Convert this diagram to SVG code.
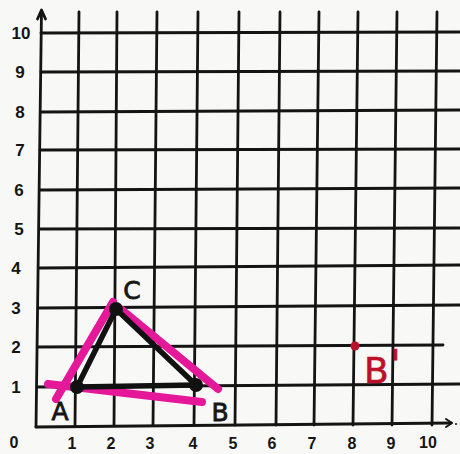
<svg xmlns="http://www.w3.org/2000/svg" width="460" height="454" viewBox="0 0 460 454">
<defs>
<style>
.g{stroke:#141414;stroke-width:2.8;stroke-linecap:round;fill:none}
.ax{stroke:#141414;stroke-width:2.8;fill:none;stroke-linecap:round;stroke-linejoin:round}
.lbl{font-family:"Liberation Sans",Arial,sans-serif;font-weight:bold;font-size:17px;fill:#151515;text-anchor:middle}
.xl{font-size:16px}
.pink{stroke:#e5189a;stroke-width:8;stroke-linecap:round;fill:none}
.blk{stroke:#111;stroke-width:5.5;stroke-linecap:round;fill:none}
.hand{font-family:"DejaVu Sans",sans-serif;font-size:25px;fill:#161616;stroke:#161616;stroke-width:0.8;text-anchor:middle}
.red{font-family:"DejaVu Sans",sans-serif;font-size:36px;fill:#bd1029;stroke:#bd1029;stroke-width:0.6}
</style>
</defs>
<rect width="460" height="454" fill="#f8f8f6"/>
<g id="grid">
<line class="g" x1="79" y1="12" x2="75" y2="425"/>
<line class="g" x1="117" y1="12" x2="114" y2="425"/>
<line class="g" x1="157" y1="12" x2="153" y2="425"/>
<line class="g" x1="198" y1="12" x2="194" y2="425"/>
<line class="g" x1="239" y1="12" x2="235" y2="425"/>
<line class="g" x1="280" y1="12" x2="276" y2="425"/>
<line class="g" x1="319" y1="12" x2="314" y2="425"/>
<line class="g" x1="358" y1="12" x2="353" y2="425"/>
<line class="g" x1="397" y1="12" x2="392" y2="425"/>
<line class="g" x1="437" y1="12" x2="432" y2="425"/>
<line class="g" x1="41" y1="33" x2="460" y2="32"/>
<line class="g" x1="41" y1="72" x2="460" y2="71"/>
<line class="g" x1="41" y1="112" x2="460" y2="110"/>
<line class="g" x1="40" y1="150" x2="460" y2="149"/>
<line class="g" x1="40" y1="190" x2="460" y2="188"/>
<line class="g" x1="40" y1="229" x2="460" y2="228"/>
<line class="g" x1="39" y1="268" x2="460" y2="265"/>
<line class="g" x1="38" y1="308" x2="460" y2="305"/>
<line class="g" x1="38" y1="347" x2="443" y2="345"/>
<line class="g" x1="37" y1="387" x2="460" y2="384"/>
</g>
<g id="axes">
<line class="ax" x1="41.5" y1="11" x2="36" y2="427"/>
<polyline class="ax" points="37.5,19 41.5,10 45.5,19"/>
<line class="ax" x1="36" y1="427" x2="451" y2="423"/>
<polyline class="ax" points="446,419 452,423 446,427" style="stroke-width:2"/>
<circle cx="456" cy="424" r="1" fill="#141414"/>
</g>
<g id="y-labels">
<text class="lbl" x="21" y="39">10</text>
<text class="lbl" x="20" y="78">9</text>
<text class="lbl" x="20" y="118">8</text>
<text class="lbl" x="20" y="156">7</text>
<text class="lbl" x="19" y="196">6</text>
<text class="lbl" x="19" y="235">5</text>
<text class="lbl" x="16" y="274">4</text>
<text class="lbl" x="16" y="314">3</text>
<text class="lbl" x="16" y="353">2</text>
<text class="lbl" x="16" y="393">1</text>
<text class="lbl xl" x="14" y="448">0</text>
</g>
<g id="x-labels">
<text class="lbl xl" x="72" y="449">1</text>
<text class="lbl xl" x="111" y="449">2</text>
<text class="lbl xl" x="150" y="449">3</text>
<text class="lbl xl" x="193" y="449">4</text>
<text class="lbl xl" x="233" y="449">5</text>
<text class="lbl xl" x="272" y="449">6</text>
<text class="lbl xl" x="312" y="449">7</text>
<text class="lbl xl" x="352" y="449">8</text>
<text class="lbl xl" x="391" y="449">9</text>
<text class="lbl xl" x="428" y="448">10</text>
</g>
<g id="connectors">
<line class="pink" x1="48" y1="384" x2="202" y2="402"/>
<line class="pink" x1="56" y1="399" x2="113" y2="302"/>
<line class="pink" x1="122" y1="310" x2="218" y2="389"/>
<line class="blk" x1="77" y1="387" x2="116" y2="309"/>
<line class="blk" x1="116" y1="309" x2="196" y2="385"/>
<line class="blk" x1="77" y1="387" x2="196" y2="385"/>
</g>
<g id="node-A">
<circle cx="77" cy="387" r="7" fill="#111"/>
<text class="hand" x="60" y="420">A</text>
</g>
<g id="node-C">
<circle cx="116" cy="309" r="7" fill="#111"/>
<text class="hand" x="132" y="299">C</text>
</g>
<g id="node-B">
<circle cx="196" cy="385" r="7" fill="#111"/>
<text class="hand" x="220" y="421">B</text>
</g>
<g id="node-B-prime">
<circle cx="355" cy="346" r="4.5" fill="#bd1029"/>
<text class="red" x="364" y="383">B<tspan font-size="40" dx="1" dy="-4">'</tspan></text>
</g>
</svg>
